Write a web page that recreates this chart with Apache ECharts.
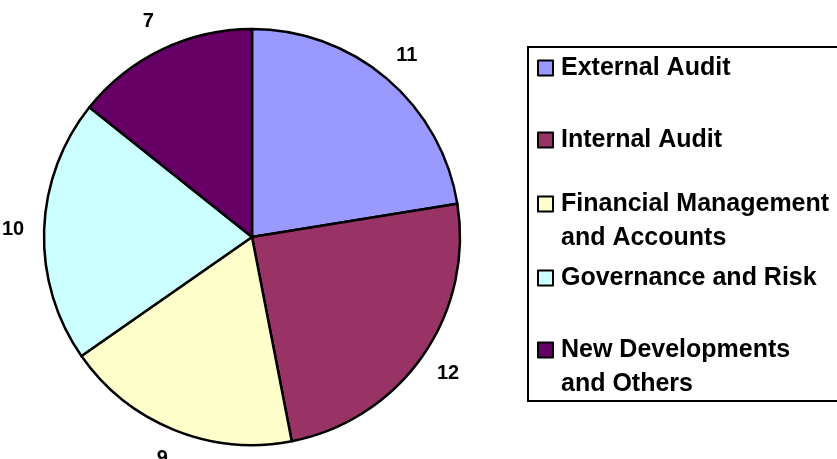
<!DOCTYPE html>
<html>
<head>
<meta charset="utf-8">
<script src="https://cdn.jsdelivr.net/npm/echarts@6/dist/echarts.min.js"></script>
<style>
html,body{margin:0;padding:0;background:#fff;}
#chart{width:837px;height:459px;}
</style>
</head>
<body>
<div id="chart"></div>
<script>
const categories = ['External Audit', 'Internal Audit', 'Financial Management and Accounts', 'Governance and Risk', 'New Developments and Others'];
const values = [11, 12, 9, 10, 7];
const colors = ['#9999FF', '#993366', '#FFFFCC', '#CCFFFF', '#660066'];
const legendLines = [
  ['External Audit'],
  ['Internal Audit'],
  ['Financial Management', 'and Accounts'],
  ['Governance and Risk'],
  ['New Developments', 'and Others']
];

const FONT = '"Liberation Sans", Arial, sans-serif';
const LINE_H = 34;
const legendCenters = [68, 140, 204, 278, 350];

const legends = categories.map(function (name, i) {
  const lines = legendLines[i];
  const multi = lines.length > 1;
  const text = multi ? '\n' + lines.join('\n') : lines[0];
  return {
    show: true,
    orient: 'vertical',
    left: 537,
    top: legendCenters[i] - (multi ? LINE_H * 1.5 : LINE_H / 2),
    padding: 0,
    itemWidth: 15,
    itemHeight: 15,
    icon: 'rect',
    selectedMode: false,
    data: [name],
    formatter: function () { return text; },
    itemStyle: { borderColor: '#000', borderWidth: 2 },
    textStyle: {
      fontFamily: FONT,
      fontWeight: 'bold',
      fontSize: 25,
      color: '#000',
      lineHeight: LINE_H,
      padding: [0, 0, 0, 3]
    }
  };
});

const data = categories.map(function (name, i) {
  return { name: name, value: values[i], itemStyle: { color: colors[i] } };
});

const chart = echarts.init(document.getElementById('chart'), null, { renderer: 'canvas' });
chart.setOption({
  animation: false,
  backgroundColor: '#fff',
  legend: legends,
  graphic: [{
    type: 'rect',
    shape: { x: 528, y: 47, width: 320, height: 354 },
    style: { fill: 'none', stroke: '#000', lineWidth: 2 },
    silent: true
  }],
  series: [
    {
      type: 'pie',
      center: [252, 237],
      radius: [0, 208],
      startAngle: 90,
      clockwise: true,
      silent: true,
      label: { show: false },
      labelLine: { show: false },
      itemStyle: { borderColor: '#000', borderWidth: 2.5 },
      data: data
    },
    {
      type: 'pie',
      center: [252, 237],
      radius: [208, 264],
      startAngle: 90,
      clockwise: true,
      silent: true,
      itemStyle: { color: 'rgba(0,0,0,0)', borderWidth: 0 },
      label: {
        show: true,
        position: 'inside',
        formatter: '{c}',
        fontFamily: FONT,
        fontWeight: 'bold',
        fontSize: 20,
        color: '#000'
      },
      labelLine: { show: false },
      data: categories.map(function (name, i) { return { name: name, value: values[i] }; })
    }
  ]
});
</script>
</body>
</html>
